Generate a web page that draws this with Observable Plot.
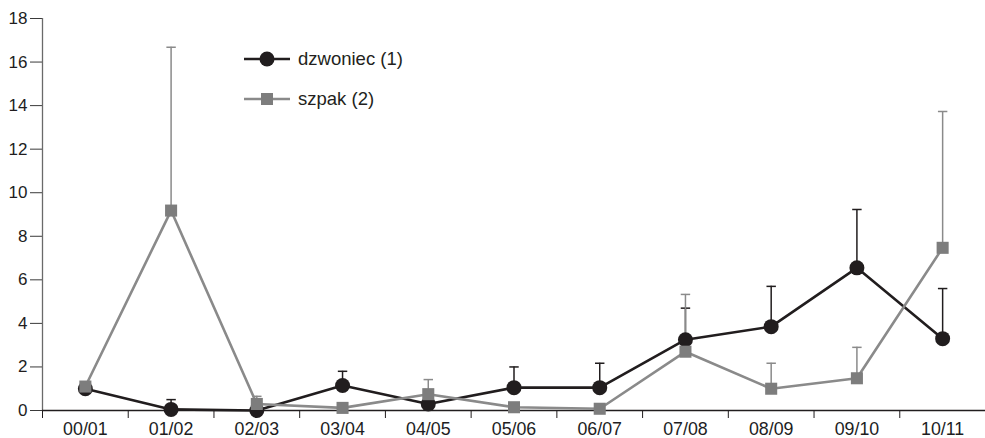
<!DOCTYPE html>
<html>
<head>
<meta charset="utf-8">
<script src="https://cdn.jsdelivr.net/npm/d3@7"></script>
<script src="https://cdn.jsdelivr.net/npm/@observablehq/plot@0.6"></script>
<style>
  body { margin: 0; background: #fff; font-family: "Liberation Sans", Arial, sans-serif; }
  #wrap { position: relative; width: 985px; height: 438px; }
  #legend { position: absolute; left: 244px; top: 39px; font-size: 18.5px; color: #231f20; }
  .item { display: flex; align-items: center; height: 40px; }
  .item span { margin-left: 8px; }
</style>
</head>
<body>
<div id="wrap"><div id="legend"></div></div>
<script>
const categories = ["00/01","01/02","02/03","03/04","04/05","05/06","06/07","07/08","08/09","09/10","10/11"];
const dzwoniec = [1.0, 0.05, 0.0, 1.15, 0.3, 1.05, 1.05, 3.25, 3.85, 6.55, 3.3];
const dzwoniecUpper = [null, 0.5, null, 1.8, null, 2.0, 2.17, 4.7, 5.7, 9.23, 5.6];
const szpak = [1.1, 9.18, 0.3, 0.12, 0.75, 0.15, 0.08, 2.7, 1.0, 1.48, 7.47];
const szpakUpper = [null, 16.68, 0.65, null, 1.42, null, null, 5.33, 2.17, 2.9, 13.73];
const yTicks = [0, 2, 4, 6, 8, 10, 12, 14, 16, 18];
const seriesNames = ["dzwoniec (1)", "szpak (2)"];

const BLACK = "#211d1e", GRAY_LINE = "#8a8a8a", GRAY_FILL = "#7d7d7d";
const idx = categories.map((_, i) => i);
const d1 = idx.map(i => ({i, v: dzwoniec[i], u: dzwoniecUpper[i]}));
const d2 = idx.map(i => ({i, v: szpak[i], u: szpakUpper[i]}));
const e1 = d1.filter(d => d.u != null);
const e2 = d2.filter(d => d.u != null);
const boundaries = idx.map(i => i - 0.5);
const cap = 0.055;

const chart = Plot.plot({
  width: 985, height: 438,
  marginLeft: 42, marginRight: 0, marginTop: 18, marginBottom: 28,
  style: {fontFamily: '"Liberation Sans", Arial, sans-serif', fontSize: "17px", color: BLACK, background: "transparent"},
  x: {type: "linear", domain: [-0.5, categories.length - 0.5]},
  y: {domain: [0, 18]},
  marks: [
    Plot.axisY({ticks: yTicks, tickSize: 12, tickPadding: 3, label: null, stroke: "#3a3a3a", fontSize: 17}),
    Plot.ruleX([-0.5], {y1: 0, y2: 18, stroke: "#6a6a6a", strokeWidth: 1.3}),
    Plot.axisX({ticks: boundaries, tickSize: 8, tickFormat: () => "", label: null, stroke: BLACK}),
    Plot.axisX({ticks: idx, tickSize: 0, tickPadding: 12, tickFormat: i => categories[i], label: null, fontSize: 17.8}),
    Plot.ruleY([0], {stroke: BLACK, strokeWidth: 1.3}),
    // dzwoniec error bars
    Plot.ruleX(e1, {x: "i", y1: "v", y2: "u", stroke: BLACK, strokeWidth: 1.5}),
    Plot.link(e1, {x1: d => d.i - cap, x2: d => d.i + cap, y1: "u", y2: "u", stroke: BLACK, strokeWidth: 1.5}),
    // szpak error bars
    Plot.ruleX(e2, {x: "i", y1: "v", y2: "u", stroke: GRAY_LINE, strokeWidth: 1.5}),
    Plot.link(e2, {x1: d => d.i - cap, x2: d => d.i + cap, y1: "u", y2: "u", stroke: GRAY_LINE, strokeWidth: 1.5}),
    // dzwoniec series
    Plot.line(d1, {x: "i", y: "v", stroke: BLACK, strokeWidth: 2.6}),
    Plot.dot(d1, {x: "i", y: "v", r: 7.5, fill: BLACK, stroke: "none"}),
    // szpak series
    Plot.line(d2, {x: "i", y: "v", stroke: GRAY_LINE, strokeWidth: 2.6}),
    Plot.dot(d2, {x: "i", y: "v", r: 6.8, symbol: "square", fill: GRAY_FILL, stroke: "none"})
  ]
});
document.getElementById("wrap").prepend(chart);

const legend = document.getElementById("legend");
const mk = [
  `<svg width="46" height="20"><line x1="0" y1="10" x2="46" y2="10" stroke="${BLACK}" stroke-width="2.6"/><circle cx="23" cy="10" r="7.5" fill="${BLACK}"/></svg>`,
  `<svg width="46" height="20"><line x1="0" y1="10" x2="46" y2="10" stroke="${GRAY_LINE}" stroke-width="2.6"/><rect x="17" y="4" width="12" height="12" fill="${GRAY_FILL}"/></svg>`
];
seriesNames.forEach((n, k) => {
  const div = document.createElement("div");
  div.className = "item";
  div.innerHTML = mk[k] + `<span>${n}</span>`;
  legend.appendChild(div);
});
const svg = chart.tagName === "svg" ? chart : chart.querySelector("svg");
svg.style.position = "absolute"; svg.style.left = "0"; svg.style.top = "0";
</script>
</body>
</html>
